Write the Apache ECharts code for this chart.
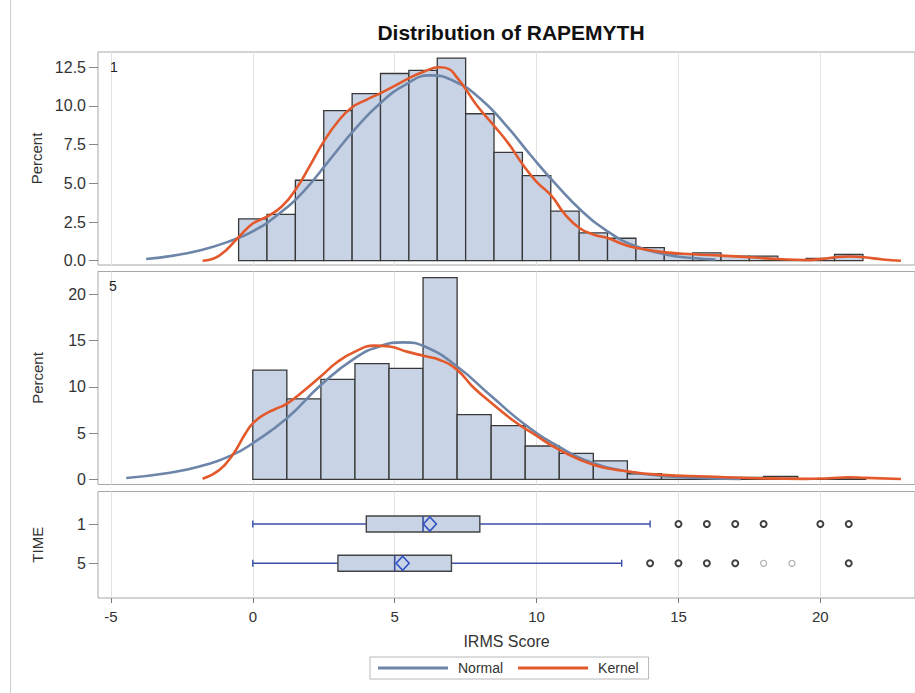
<!DOCTYPE html>
<html><head><meta charset="utf-8">
<script src="https://cdn.jsdelivr.net/npm/echarts@6/dist/echarts.min.js"></script>
<style>html,body{margin:0;padding:0;background:#fff}#c{width:915px;height:693px}</style>
</head><body><div id="c"></div>
<script>
// ---------- data ----------
const xTicks = [-5, 0, 5, 10, 15, 20];
const pctTicks1 = [0, 2.5, 5, 7.5, 10, 12.5];
const pctTicks5 = [0, 5, 10, 15, 20];
const timeLabels = ['1', '5'];
const panelLabels = ['1', '5'];

// TIME = 1 histogram (bins of width 1 starting at -0.5)
const binStart1 = -0.5, binWidth1 = 1;
const pct1 = [2.7, 3.0, 5.2, 9.7, 10.8, 12.1, 12.3, 13.1, 9.5, 7.0, 5.5, 3.2, 1.8, 1.45, 0.85, 0.45, 0.5, 0.3, 0.3, 0, 0.15, 0.4];
// TIME = 5 histogram (bins of width 1.2 starting at 0)
const binStart5 = 0, binWidth5 = 1.2;
const pct5 = [11.8, 8.7, 10.8, 12.5, 12.0, 21.8, 7.0, 5.8, 3.6, 2.8, 2.0, 0.6, 0.3, 0.2, 0.2, 0.3, 0, 0.15];

const normal1 = [[-3.76,0.11],[-2.8,0.33],[-1.88,0.66],[-0.9,1.2],[0,1.9],[0.9,3.0],[1.8,4.5],[2.7,6.5],[3.6,8.5],[4.5,10.2],[5.4,11.4],[6.24,11.98],[7.1,11.6],[8.0,10.5],[8.9,8.8],[9.8,6.8],[10.7,4.9],[11.6,3.2],[12.5,1.9],[13.4,1.0],[14.5,0.42],[15.5,0.17],[16.3,0.08]];
const kernel1 = [[-1.77,0],[-1.18,0.33],[-0.51,1.5],[0,2.4],[0.5,2.85],[1.02,3.5],[1.51,4.6],[2.0,6.1],[2.5,7.7],[3.0,9.0],[3.49,9.9],[4.0,10.4],[4.52,10.85],[5.0,11.3],[5.51,11.8],[6.0,12.2],[6.59,12.5],[6.9,12.4],[7.17,11.9],[7.5,11.1],[7.87,10.1],[8.51,8.7],[9.0,7.6],[9.52,6.2],[10.0,5.1],[10.52,4.2],[11.0,3.0],[11.52,2.1],[12.0,1.7],[12.53,1.45],[13.0,1.1],[13.53,0.82],[14.54,0.54],[15.52,0.42],[16.51,0.33],[17.5,0.22],[18.52,0.11],[19.47,0.05],[20.0,0.1],[20.52,0.22],[21.04,0.27],[21.54,0.22],[22.2,0.08],[22.84,0]];
const normal5 = [[-4.46,0.14],[-3.04,0.66],[-1.88,1.38],[-0.72,2.64],[0,3.9],[1.2,6.6],[2.4,10.2],[3.6,13.1],[4.5,14.4],[5.3,14.8],[6.1,14.3],[7.2,12.2],[8.4,9.0],[9.6,5.9],[10.8,3.5],[12.0,1.75],[13.2,0.85],[14.4,0.38],[15.99,0.12],[17.2,0.04]];
const kernel5 = [[-1.77,0.05],[-1.18,1.0],[-0.72,2.6],[-0.25,5.0],[0,6.05],[0.4,7.0],[0.8,7.6],[1.22,8.2],[1.83,9.65],[2.39,11.1],[2.99,12.7],[3.6,13.8],[4.27,14.45],[4.82,14.35],[5.43,13.8],[6.01,13.35],[6.59,12.9],[7.21,11.8],[7.75,10.0],[8.43,8.2],[9.2,6.3],[9.9,4.9],[10.79,3.2],[12.02,1.55],[13.23,0.85],[14.43,0.48],[15.99,0.3],[17.73,0.12],[19.47,0.05],[20.3,0.12],[20.98,0.22],[21.6,0.15],[22.84,0.03]];

// box plots: [min whisker, Q1, median, Q3, max whisker]
const boxStats = [[0, 4, 6, 8, 14], [0, 3, 5, 7, 13]];
const boxMeans = [6.24, 5.28];
const outliers1 = [15, 16, 17, 18, 20, 21];
const outliers5 = [14, 15, 16, 17, 21];
const outliers5Faint = [18, 19];

// ---------- chart ----------
const FONT = '"Liberation Sans", Arial, sans-serif';
const BAR_FILL = '#c8d4e6', BAR_STROKE = '#383838';
const NORMAL_C = '#6c85a8', KERNEL_C = '#e3592b';
const XMIN = -5.455, XMAX = 23.335;

const chart = echarts.init(document.getElementById('c'), null, {renderer: 'svg'});

function xAxisCfg(idx, bottom) {
  return {
    type: 'value', gridIndex: idx, min: XMIN, max: XMAX, position: 'bottom',
    axisLine: {show: false, onZero: false},
    axisTick: {show: bottom, customValues: xTicks, length: 5, lineStyle: {color: '#777'}},
    axisLabel: {show: bottom, customValues: xTicks, fontSize: 15, fontFamily: FONT, color: '#333', margin: 11},
    splitLine: {show: true, lineStyle: {color: '#e3e3e3', width: 1}},
    name: bottom ? 'IRMS Score' : '', nameLocation: 'middle', nameGap: 35,
    nameTextStyle: {fontSize: 16, fontFamily: FONT, color: '#333'}
  };
}
function yAxisCfg(idx, min, max, ticks, fmt, name, inverse) {
  return {
    type: 'value', gridIndex: idx, min, max, inverse: !!inverse, position: 'left',
    axisLine: {show: false, onZero: false},
    axisTick: {show: true, customValues: ticks, length: 9, lineStyle: {color: '#888'}},
    axisLabel: {customValues: ticks, formatter: fmt, fontSize: 16, fontFamily: FONT, color: '#333', margin: 12},
    splitLine: {show: false},
    name, nameLocation: 'middle', nameGap: 53, nameRotate: 90,
    nameTextStyle: {fontSize: 15, fontFamily: FONT, color: '#333'}
  };
}
function histSeries(idx, start, width, vals) {
  return {
    type: 'custom', xAxisIndex: idx, yAxisIndex: idx, z: 2,
    data: vals.map((v, i) => [start + i * width, start + (i + 1) * width, v]),
    encode: {x: [0, 1], y: 2},
    renderItem: (params, api) => {
      const p0 = api.coord([api.value(0), api.value(2)]);
      const p1 = api.coord([api.value(1), 0]);
      return {type: 'rect', shape: {x: p0[0], y: p0[1], width: p1[0] - p0[0], height: p1[1] - p0[1]},
        style: {fill: BAR_FILL, stroke: BAR_STROKE, lineWidth: 1.3}};
    }
  };
}
function curve(idx, name, data, color) {
  return {type: 'line', name, xAxisIndex: idx, yAxisIndex: idx, data, z: 5,
    smooth: 0.5, showSymbol: false, symbol: 'none',
    itemStyle: {color}, lineStyle: {color, width: 2.6}, silent: true};
}
function outlierSeries(vals, row, color, bw) {
  return {type: 'scatter', xAxisIndex: 2, yAxisIndex: 2, z: 6, symbol: 'circle', symbolSize: 6,
    data: vals.map(v => [v, row]),
    itemStyle: {color: '#fff', borderColor: color, borderWidth: bw}};
}

const option = {
  animation: false,
  backgroundColor: '#fff',
  grid: [
    {left: 98, top: 52, width: 826, height: 213, show: true, borderColor: '#a8a8a8', borderWidth: 1, backgroundColor: 'transparent'},
    {left: 98, top: 271.5, width: 826, height: 213, show: true, borderColor: '#a8a8a8', borderWidth: 1, backgroundColor: 'transparent'},
    {left: 98, top: 491.5, width: 826, height: 106.5, show: true, borderColor: '#a8a8a8', borderWidth: 1, backgroundColor: 'transparent'}
  ],
  xAxis: [xAxisCfg(0, false), xAxisCfg(1, false), xAxisCfg(2, true)],
  yAxis: [
    yAxisCfg(0, -0.278, 13.49, pctTicks1, v => v.toFixed(1), 'Percent'),
    yAxisCfg(1, -0.562, 22.46, pctTicks5, v => String(v), 'Percent'),
    yAxisCfg(2, 0.173, 2.883, [1, 2], v => timeLabels[Math.round(v) - 1], 'TIME', true)
  ],
  legend: {
    left: 370, top: 657, orient: 'horizontal', padding: [4, 10, 4, 8],
    itemWidth: 70, itemHeight: 3, itemGap: 15, icon: 'rect',
    borderColor: '#b8b8b8', borderWidth: 1,
    textStyle: {fontSize: 14, fontFamily: FONT, color: '#333', padding: [0, 0, 0, 5]},
    data: ['Normal', 'Kernel']
  },
  graphic: [
    {type: 'line', shape: {x1: 10.5, y1: 0, x2: 10.5, y2: 693}, style: {stroke: '#cfcfcf', lineWidth: 1}},
    {type: 'text', x: 511, y: 32, z: 10, style: {text: 'Distribution of RAPEMYTH', textAlign: 'center', textVerticalAlign: 'middle',
      font: 'bold 21px ' + FONT, fill: '#111'}},
    {type: 'text', x: 110, y: 60, z: 10, style: {text: panelLabels[0], font: '14px ' + FONT, fill: '#222'}},
    {type: 'text', x: 109, y: 279, z: 10, style: {text: panelLabels[1], font: '14px ' + FONT, fill: '#222'}}
  ],
  series: [
    histSeries(0, binStart1, binWidth1, pct1),
    curve(0, 'Normal', normal1, NORMAL_C),
    curve(0, 'Kernel', kernel1, KERNEL_C),
    histSeries(1, binStart5, binWidth5, pct5),
    curve(1, 'Normal', normal5, NORMAL_C),
    curve(1, 'Kernel', kernel5, KERNEL_C),
    {
      type: 'custom', xAxisIndex: 2, yAxisIndex: 2, z: 4,
      data: boxStats.map((s, i) => [i + 1, ...s, boxMeans[i]]),
      encode: {x: [1, 2, 3, 4, 5, 6], y: 0},
      renderItem: (params, api) => {
        const row = api.value(0);
        const X = v => api.coord([v, row])[0];
        const y = api.coord([0, row])[1];
        const [mn, q1, md, q3, mx, mean] = [1, 2, 3, 4, 5, 6].map(k => X(api.value(k)));
        const wc = '#3a4ea8', h = 8, c = 3.5, d = 6.5;
        return {type: 'group', children: [
          {type: 'line', shape: {x1: mn, y1: y, x2: q1, y2: y}, style: {stroke: wc, lineWidth: 1.4}},
          {type: 'line', shape: {x1: q3, y1: y, x2: mx, y2: y}, style: {stroke: wc, lineWidth: 1.4}},
          {type: 'line', shape: {x1: mn, y1: y - c, x2: mn, y2: y + c}, style: {stroke: wc, lineWidth: 1.4}},
          {type: 'line', shape: {x1: mx, y1: y - c, x2: mx, y2: y + c}, style: {stroke: wc, lineWidth: 1.4}},
          {type: 'rect', shape: {x: q1, y: y - h, width: q3 - q1, height: 2 * h}, style: {fill: BAR_FILL, stroke: '#444', lineWidth: 1.4}},
          {type: 'line', shape: {x1: md, y1: y - h, x2: md, y2: y + h}, style: {stroke: '#3a4e9a', lineWidth: 1.6}},
          {type: 'polygon', shape: {points: [[mean, y - d - 0.5], [mean + d, y], [mean, y + d + 0.5], [mean - d, y]]},
            style: {fill: 'none', stroke: '#2f52c4', lineWidth: 1.6}}
        ]};
      }
    },
    outlierSeries(outliers1, 1, '#111', 2),
    outlierSeries(outliers5, 2, '#111', 2),
    outlierSeries(outliers5Faint, 2, '#9a9a9a', 1.2)
  ]
};
chart.setOption(option);
</script></body></html>
